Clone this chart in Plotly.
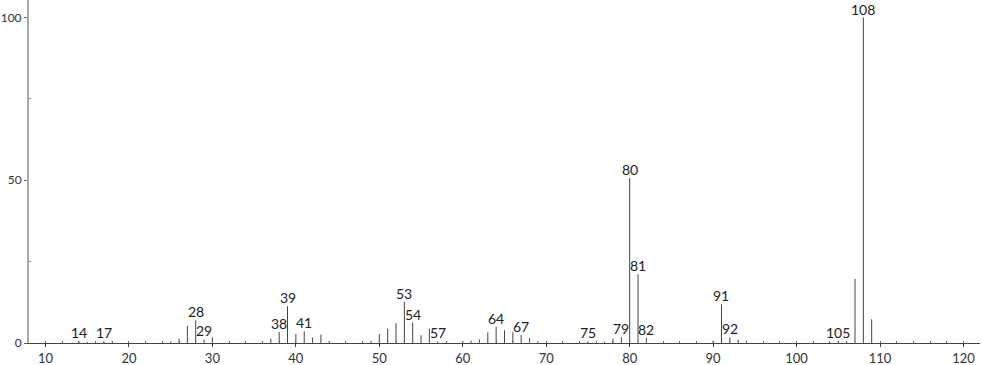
import plotly.graph_objects as go

mz = [14, 15, 17, 18, 25, 26, 27, 28, 29, 30, 36, 37, 38, 39, 40, 41, 42, 43, 44,
      49, 50, 51, 52, 53, 54, 55, 56, 57, 60, 61, 62, 63, 64, 65, 66, 67, 68, 69,
      75, 77, 78, 79, 80, 81, 82, 90, 91, 92, 93, 94, 105, 106, 107, 108, 109]
intensity = [0.6, 0.3, 0.6, 0.6, 0.5, 1.3, 5.3, 7.0, 1.1, 1.7, 0.5, 1.3, 3.4, 11.3, 2.8, 3.6, 1.7, 2.6, 0.5,
             0.7, 2.7, 4.4, 6.1, 12.6, 6.3, 2.4, 4.4, 0.5, 0.5, 0.7, 1.1, 3.3, 5.0, 3.9, 3.3, 2.4, 1.5, 0.5,
             0.5, 0.4, 1.3, 1.8, 50.7, 21.1, 1.6, 0.7, 11.9, 1.7, 1.0, 0.7, 0.7, 0.5, 19.7, 100.0, 7.3]
labeled = [14, 17, 28, 29, 38, 39, 41, 53, 54, 57, 64, 67, 75, 79, 80, 81, 82, 91, 92, 105, 108]

x_ticks = [10, 20, 30, 40, 50, 60, 70, 80, 90, 100, 110, 120]
y_ticks = [0, 50, 100]

FONT = "Lato, 'DejaVu Sans', sans-serif"

xs, ys = [], []
for m, v in zip(mz, intensity):
    xs += [m, m, None]
    ys += [0, v, None]

fig = go.Figure()
fig.add_trace(go.Scatter(x=xs, y=ys, mode="lines",
                         line=dict(color="#444444", width=1),
                         hoverinfo="skip", showlegend=False, cliponaxis=False))

lookup = dict(zip(mz, intensity))
for m in labeled:
    fig.add_annotation(x=m, y=lookup[m], text=str(m), showarrow=False,
                       xanchor="center", yanchor="bottom", yshift=-2,
                       font=dict(family=FONT, size=14, color="#222222"))

fig.update_layout(
    width=982, height=365,
    margin=dict(l=29, r=2, t=0, b=22, autoexpand=False),
    paper_bgcolor="white", plot_bgcolor="white",
    font=dict(family=FONT, size=13, color="#333333"),
    showlegend=False,
)
fig.update_xaxes(range=[8.02, 121.98], tickvals=x_ticks, ticks="outside", ticklen=3,
                 tickcolor="#444444", showgrid=False, zeroline=False, automargin=False,
                 showline=True, linecolor="#444444", linewidth=1,
                 minor=dict(dtick=2, tick0=0, ticks="inside", ticklen=2, tickcolor="#666666", showgrid=False),
                 tickfont=dict(family=FONT, size=13, color="#333333"))
fig.update_yaxes(range=[0, 105.4], tickvals=y_ticks, ticks="outside", ticklen=3,
                 tickcolor="#666666", showgrid=False, zeroline=False, automargin=False,
                 showline=True, linecolor="#aaaaaa", linewidth=2,
                 minor=dict(tickvals=[25, 75], ticks="inside", ticklen=2, tickcolor="#888888", showgrid=False),
                 tickfont=dict(family=FONT, size=12, color="#333333"))

fig.write_html("out.html")
